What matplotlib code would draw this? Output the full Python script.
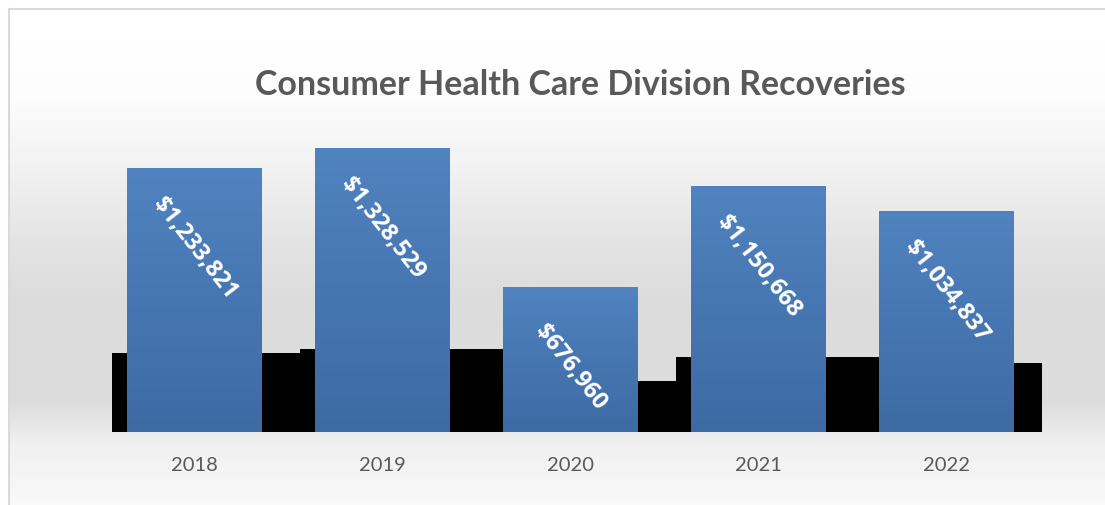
import numpy as np
import matplotlib
matplotlib.use("Agg")
import matplotlib.pyplot as plt
from matplotlib.colors import LinearSegmentedColormap

# ── data ──────────────────────────────────────────────────────────────────────
years = ["2018", "2019", "2020", "2021", "2022"]
recoveries = [1233821, 1328529, 676960, 1150668, 1034837]
# black "depth" blocks that sit behind the bars
shadow = [369000, 388000, 238000, 351000, 323000]

title = "Consumer Health Care Division Recoveries"

# ── figure ────────────────────────────────────────────────────────────────────
W, H = 1105, 505
fig = plt.figure(figsize=(W / 100, H / 100), dpi=100)
fig.patch.set_facecolor("white")

# background panel with a vertical grey gradient (pixel rows from the top)
bg = fig.add_axes([0, 0, 1, 1], zorder=-10)
rows = np.arange(H)
grad_px = [9, 90, 160, 250, 300, 400, 445, 505]
grad_val = [1.0, 0.99, 0.95, 0.885, 0.86, 0.86, 0.94, 0.975]
col = np.interp(rows, grad_px, grad_val)
img = np.tile(col[:, None], (1, W))
img[:9, :] = 1.0
img[:, :8] = 1.0
bg.imshow(img, cmap="gray", vmin=0, vmax=1, aspect="auto",
          extent=[0, W, H, 0], origin="upper", interpolation="bilinear")
bg.set_xlim(0, W)
bg.set_ylim(H, 0)
bg.axis("off")
# thin frame lines on the left and top
bg.plot([8.5, 8.5], [8.5, H], color="#d9d9d9", lw=1.5)
bg.plot([8.5, W], [8.5, 8.5], color="#d9d9d9", lw=1.5)

# plot axes, placed in pixels
x0, x1 = 100.5, 1042
base_y, top_y = 432, 100
ax = fig.add_axes([x0 / W, (H - base_y) / H, (x1 - x0) / W, (base_y - top_y) / H])
ax.patch.set_alpha(0)

x = np.arange(len(years))
bar_w = 135 / 188

# black blocks behind, overlapping a bit; the taller one wins where they meet
for xi, s in zip(x, shadow):
    ax.bar(xi - 0.44, s, width=1.1, align="edge", color="black",
           zorder=1 + s / 1e7)

# blue bars with gradient fill
blue = LinearSegmentedColormap.from_list("b", ["#3d6aa3", "#5083c0"])
bars = ax.bar(x, recoveries, width=bar_w, color="#4675b0", zorder=2)
for b in bars:
    bx, by = b.get_x(), b.get_y()
    bw, bh = b.get_width(), b.get_height()
    im = ax.imshow(np.linspace(0, 1, 100)[:, None], cmap=blue, aspect="auto",
                   extent=[bx, bx + bw, by, by + bh], origin="lower", zorder=3)
    im.set_clip_path(b)
ax.set_xlim(-0.5, 4.5 + 1.5 / 188)
ax.set_ylim(0, 1.552e6)

# value labels
for xi, v in zip(x, recoveries):
    ax.annotate(f"${v:,}", (xi, v), xytext=(0, -58), textcoords="offset points",
                ha="center", va="center", rotation=-52, color="white",
                fontsize=17, fontweight="bold", family="Open Sans", zorder=5)

ax.set_xticks(x)
ax.set_xticklabels(years, family="Lato", fontsize=14.5, color="#595959")
ax.tick_params(axis="x", length=0, pad=18)
ax.set_yticks([])
for s in ax.spines.values():
    s.set_visible(False)

fig.text(580 / W, 1 - 85 / H, title, ha="center", va="center",
         fontsize=24.5, fontweight="bold", color="#595959", family="Lato")

fig.savefig("out.png", dpi=100)
